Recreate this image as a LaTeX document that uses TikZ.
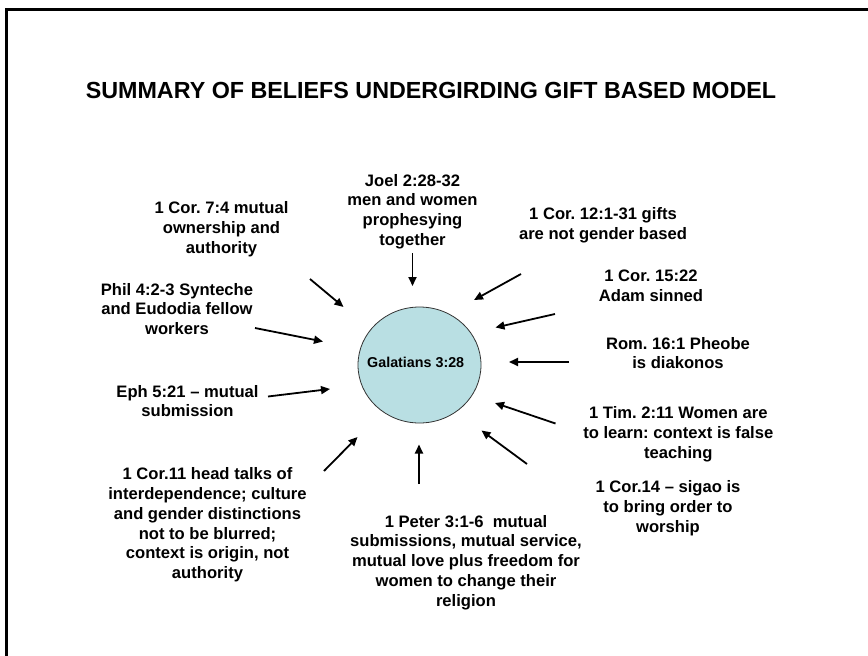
\documentclass[tikz,border=0pt]{standalone}
\usepackage{fontspec}
\setmainfont{Liberation Sans}
\usetikzlibrary{arrows.meta,shapes.geometric}
\definecolor{galfill}{RGB}{185,223,227}
\frenchspacing
\begin{document}
\begin{tikzpicture}[x=1pt,y=-1pt,
  lbl/.style={align=center,font=\fontsize{16.6}{19.8}\selectfont\bfseries,inner sep=0pt},
  arr/.style={line width=1.8pt,-{Triangle[length=9pt,width=8pt]}}]
\useasboundingbox (0,0) rectangle (868,656);
\clip (0,0) rectangle (868,656);
\fill[white] (0,0) rectangle (868,656);
\draw[line width=3pt] (6,9.5) rectangle (900,700);

\node[anchor=base,font=\fontsize{23.3}{26}\selectfont\bfseries,inner sep=0pt] (title) at (431,98.3)
  {SUMMARY OF BELIEFS UNDERGIRDING GIFT BASED MODEL};

\node[ellipse,draw=black!80,line width=0.8pt,fill=galfill,minimum width=123pt,minimum height=116pt,inner sep=0pt] (gal) at (419.5,365) {};
\node[font=\fontsize{14.3}{16}\selectfont\bfseries,inner sep=0pt] (galtext) at (415.7,362) {Galatians 3:28};

\node[lbl] (joel) at (412.5,211.5) {Joel 2:28-32\\men and women\\prophesying\\together};
\node[lbl] (cor7) at (221.5,229) {1 Cor. 7:4 mutual\\ownership and\\authority};
\node[lbl] (phil) at (177,309) {Phil 4:2-3 Synteche\\and Eudodia fellow\\workers};
\node[lbl] (eph) at (187.5,401) {Eph 5:21 – mutual\\submission};
\node[lbl] (cor12) at (603,225.5) {1 Cor. 12:1-31 gifts\\are not gender based};
\node[lbl] (cor15) at (651,285.5) {1 Cor. 15:22\\Adam sinned};
\node[lbl] (rom) at (678,353) {Rom. 16:1 Pheobe\\is diakonos};
\node[lbl] (tim) at (678.3,434) {1 Tim. 2:11 Women are\\to learn: context is false\\teaching};
\node[lbl] (cor14) at (668,508.4) {1 Cor.14 – sigao is\\to bring order to\\worship};
\node[lbl] (cor11) at (207.5,525) {1 Cor.11 head talks of\\interdependence; culture\\and gender distinctions\\not to be blurred;\\context is origin, not\\authority};
\node[lbl] (peter) at (466,562.5) {1 Peter 3:1-6\ \ mutual\\submissions, mutual service,\\mutual love plus freedom for\\women to change their\\religion};

\coordinate (s1) at (412.5,253);   \coordinate (e1) at (412.5,286);
\coordinate (s2) at (310,279);     \coordinate (e2) at (343.5,307);
\coordinate (s3) at (255,328);     \coordinate (e3) at (323,341.5);
\coordinate (s4) at (268,396.5);   \coordinate (e4) at (330,389);
\coordinate (s5) at (521,274);     \coordinate (e5) at (474,300);
\coordinate (s6) at (555,314);     \coordinate (e6) at (495.5,327.5);
\coordinate (s7) at (569,362);     \coordinate (e7) at (509,362);
\coordinate (s8) at (555.5,423.5); \coordinate (e8) at (495,403);
\coordinate (s9) at (527,464);     \coordinate (e9) at (481.5,430.5);
\coordinate (s10) at (324,471);    \coordinate (e10) at (357.5,437);
\coordinate (s11) at (419,484);    \coordinate (e11) at (419,444.5);

\foreach \i in {1,...,11} {\draw[arr] (s\i) -- (e\i);}
\end{tikzpicture}
\end{document}
